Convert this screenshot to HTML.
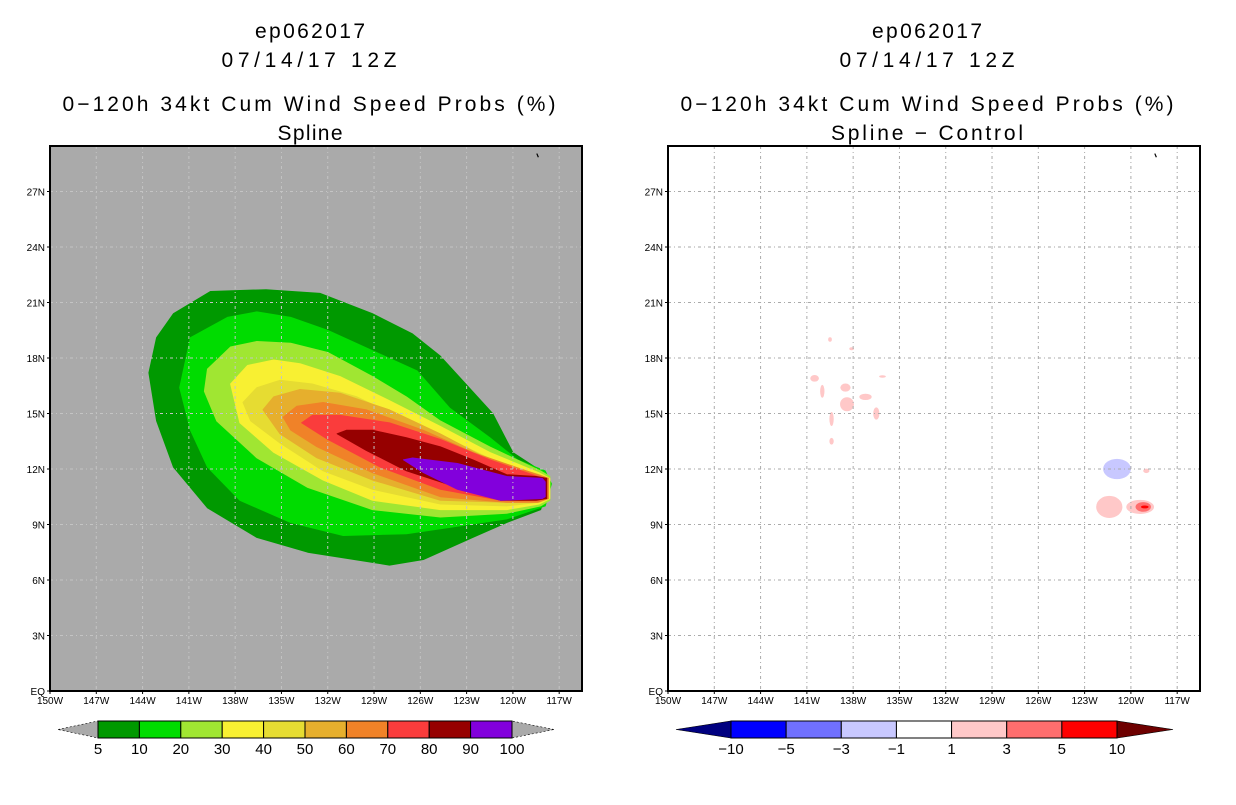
<!DOCTYPE html>
<html><head><meta charset="utf-8">
<style>
body{margin:0;background:#fff;width:1236px;height:800px;overflow:hidden;font-family:"Liberation Sans",sans-serif}
svg text{font-family:"Liberation Sans",sans-serif}
</style></head>
<body>
<svg id="chart" width="1236" height="800" xmlns="http://www.w3.org/2000/svg">
 <g font-size="21" text-anchor="middle" fill="#000">
  <text x="310" y="38" textLength="110" lengthAdjust="spacing">ep062017</text>
  <text x="309" y="67" textLength="175" lengthAdjust="spacing">07/14/17 12Z</text>
  <text x="309" y="111" textLength="493" lengthAdjust="spacing">0−120h 34kt Cum Wind Speed Probs (%)</text>
  <text x="310" y="140" textLength="65" lengthAdjust="spacing">Spline</text>
 </g>
 <g font-size="21" text-anchor="middle" fill="#000">
  <text x="927" y="38" textLength="110" lengthAdjust="spacing">ep062017</text>
  <text x="927" y="67" textLength="175" lengthAdjust="spacing">07/14/17 12Z</text>
  <text x="927" y="111" textLength="493" lengthAdjust="spacing">0−120h 34kt Cum Wind Speed Probs (%)</text>
  <text x="927" y="140" textLength="192" lengthAdjust="spacing">Spline − Control</text>
 </g>
 <g id="left"></g>
 <g id="right"></g>
 <g id="legL"></g>
 <g id="legR"></g>
</svg>
<script>
// ---- data ----
const lonTicks=[150,147,144,141,138,135,132,129,126,123,120,117];
const latTicks=[0,3,6,9,12,15,18,21,24,27];
const probLevels=[5,10,20,30,40,50,60,70,80,90];
const probColors=["#009900","#00dc00","#a0e632","#f8f032","#e6dc32","#e6af2d","#f08228","#fa3c3c","#960000","#8200dc"];
const c5=[[139.6,21.6],[136.0,21.7],[132.5,21.5],[129.1,20.4],[126.5,19.3],[124.7,18.1],[121.3,15.0],[120.0,12.9],[118.0,11.8],[117.7,11.0],[118.2,9.8],[120.4,9.1],[122.6,8.3],[125.8,7.1],[128.0,6.8],[133.3,7.5],[136.6,8.3],[139.8,9.9],[142.0,12.1],[143.1,14.6],[143.6,17.2],[143.1,19.1],[142.0,20.4]];
const c10=[[140.9,19.1],[138.5,20.2],[136.6,20.5],[134.4,20.2],[132.0,19.5],[129.1,18.4],[126.2,17.3],[124.1,15.3],[121.5,13.7],[119.7,12.5],[117.9,11.9],[117.5,11.2],[117.9,10.0],[120.4,9.3],[123.6,8.9],[126.9,8.5],[131.0,8.4],[134.4,9.1],[137.7,10.3],[139.8,12.1],[140.9,14.1],[141.6,16.4]];
const c20=[[139.8,17.4],[138.3,18.6],[136.6,18.9],[134.4,18.8],[132.0,18.3],[129.1,17.0],[126.9,15.9],[124.7,14.6],[121.5,13.2],[118.2,11.9],[117.6,11.6],[117.6,10.3],[118.2,10.0],[120.4,9.6],[124.7,9.4],[129.1,9.8],[133.3,11.0],[136.6,12.6],[139.2,14.6],[140.0,16.2]];
const c30=[[138.3,16.6],[137.2,17.6],[135.5,17.9],[133.8,17.7],[131.2,17.0],[128.0,15.7],[124.7,14.3],[121.5,12.9],[118.3,11.8],[117.6,11.5],[117.6,10.4],[118.3,10.1],[120.4,9.8],[124.7,9.8],[129.1,10.3],[132.3,11.4],[135.5,12.9],[137.7,14.5]];
const c40=[[137.5,15.6],[136.6,16.4],[135.1,16.8],[133.0,16.6],[130.1,15.9],[126.9,14.6],[123.6,13.4],[120.8,12.3],[118.3,11.7],[117.7,11.5],[117.7,10.4],[118.3,10.2],[120.4,10.0],[124.7,10.1],[129.1,10.9],[132.3,11.9],[135.1,13.4],[137.0,14.6]];
const c50=[[136.2,15.2],[135.5,15.9],[133.8,16.3],[131.2,16.1],[128.0,15.2],[124.7,13.9],[121.5,12.5],[118.3,11.7],[117.7,11.5],[117.7,10.4],[118.3,10.2],[120.4,10.2],[124.7,10.3],[129.1,11.4],[132.7,12.6],[135.1,13.9]];
const c60=[[134.9,14.8],[134.0,15.4],[132.3,15.6],[129.5,15.2],[125.8,14.1],[122.6,12.9],[118.4,11.7],[117.7,11.5],[117.7,10.4],[118.4,10.2],[120.4,10.2],[124.7,10.5],[129.1,11.8],[132.7,13.2],[134.4,14.1]];
const c70=[[133.7,14.5],[133.0,14.9],[131.2,14.9],[128.0,14.5],[124.7,13.6],[121.5,12.5],[118.4,11.6],[117.8,11.5],[117.8,10.4],[118.4,10.3],[120.8,10.3],[124.7,10.9],[128.6,12.1],[132.0,13.6]];
const c80=[[131.4,13.9],[130.8,14.1],[129.1,14.1],[126.9,13.7],[124.7,13.2],[122.6,12.5],[120.4,11.7],[118.5,11.6],[117.8,11.5],[117.8,10.4],[118.5,10.3],[120.8,10.3],[123.6,11.0],[126.9,11.9],[129.5,13.0]];
const c90=[[127.1,12.5],[126.5,12.6],[123.6,12.3],[120.4,11.6],[118.1,11.5],[117.9,11.3],[117.9,10.5],[118.1,10.4],[120.8,10.3],[123.6,10.9],[125.8,11.8]];
const probContours=[c5,c10,c20,c30,c40,c50,c60,c70,c80,c90];
const diffLevels=[-10,-5,-3,-1,1,3,5,10];
const diffColors=["#0000ff","#7070ff","#c8c8ff","#ffffff","#ffc8c8","#ff6e6e","#ff0000"];
// difference blobs: lon(W), lat, half-width (deg lon), half-height (deg lat), bin index
const blobLon=[139.5,138.1,140.5,140.0,138.5,137.2,138.4,139.4,136.5,136.1,139.4,120.9,119.0,121.4,119.4,119.2,119.1];
const blobLat=[19.0,18.5,16.9,16.2,16.4,15.9,15.5,14.7,15.0,17.0,13.5,12.0,11.9,9.95,9.95,9.95,9.95];
const blobW=[0.12,0.15,0.28,0.14,0.33,0.4,0.45,0.14,0.2,0.22,0.14,0.9,0.2,0.85,0.9,0.5,0.25];
const blobH=[0.12,0.08,0.18,0.35,0.22,0.17,0.38,0.38,0.33,0.06,0.18,0.55,0.12,0.6,0.38,0.26,0.08];
const blobBin=[4,4,4,4,4,4,4,4,4,4,4,2,4,4,4,5,6];

const NS="http://www.w3.org/2000/svg";
const PT=146,PB=691,PW=532;
const ppd=15.43, ppl=18.5;
function mk(tag,attrs,parent){const e=document.createElementNS(NS,tag);for(const k in attrs)e.setAttribute(k,attrs[k]);parent.appendChild(e);return e;}
function xs(x0){return lon=>x0+(150-lon)*ppd;}
const ys=lat=>PB-lat*ppl;

function drawMap(g,x0,bg,gridCol,gridDash,prefix){
  const X=xs(x0);
  const cp=mk("clipPath",{id:prefix+"clip"},g);
  mk("rect",{x:x0,y:PT,width:PW,height:PB-PT},cp);
  const bgr=mk("rect",{x:x0,y:PT,width:PW,height:PB-PT,fill:bg},g);
  
  
  const layer=mk("g",{"clip-path":"url(#"+prefix+"clip)"},g);
  
  
  const grid=mk("g",{},g);
  
  
  const axes=mk("g",{"font-size":"10",fill:"#000"},g);
  
  
  lonTicks.forEach(l=>{
    const x=X(l);
    if(l!==150){const ln=mk("line",{x1:x,x2:x,y1:PT,y2:PB,stroke:gridCol,"stroke-width":1,"stroke-dasharray":gridDash},grid);
      
      }
    const t=mk("text",{x:x,y:PB+13,"text-anchor":"middle"},axes);
    t.textContent=l+"W";
    
    
    mk("line",{x1:x,x2:x,y1:PB,y2:PB+3,stroke:"#000"},axes);
  });
  latTicks.forEach(l=>{
    const y=ys(l);
    if(l!==0){const ln=mk("line",{x1:x0,x2:x0+PW,y1:y,y2:y,stroke:gridCol,"stroke-width":1,"stroke-dasharray":gridDash},grid);
      
      }
    const t=mk("text",{x:x0-5,y:y+4,"text-anchor":"end"},axes);
    t.textContent=l===0?"EQ":l+"N";
    
    
    mk("line",{x1:x0-3,x2:x0,y1:y,y2:y,stroke:"#000"},axes);
  });
  const fr=mk("rect",{x:x0,y:PT,width:PW,height:PB-PT,fill:"none",stroke:"#000","stroke-width":2},g);
  
  
  const mark=mk("line",{x1:X(118.45),y1:ys(29.05),x2:X(118.35),y2:ys(28.85),stroke:"#000","stroke-width":1.2},g);
  
  
  return {layer,X};
}

// left
const L=drawMap(document.getElementById("left"),50,"#aaaaaa","#c4c4c4","3,3,1,3","left-");
probContours.forEach((poly,i)=>{
  const d=poly.map((p,j)=>(j?"L":"M")+L.X(p[0]).toFixed(1)+","+ys(p[1]).toFixed(1)).join("")+"Z";
  const p=mk("path",{d:d,fill:probColors[i],stroke:probColors[i],"stroke-width":0.8,"stroke-linejoin":"round"},L.layer);
  
  
});
// right
const R=drawMap(document.getElementById("right"),668,"#ffffff","#aaaaaa","3,3,1,3","right-");
blobLon.forEach((lon,i)=>{
  const e=mk("ellipse",{cx:R.X(lon),cy:ys(blobLat[i]),rx:Math.max(1.5,blobW[i]*ppd),ry:Math.max(1.2,blobH[i]*ppl),fill:diffColors[blobBin[i]]},R.layer);
  
  
});

// colorbars
function colorbar(g,x0,x1,yTop,yBot,cols,labels,leftTri,rightTri,tipL,tipR){
  const n=cols.length,w=(x1-x0)/n,ym=(yTop+yBot)/2;
  const tl=mk("polygon",{points:`${tipL},${ym} ${x0},${yTop} ${x0},${yBot}`,fill:leftTri,stroke:"#000","stroke-width":0.6,"stroke-dasharray":leftTri==="#aaaaaa"?"2,2":"none"},g);
  
  
  const tr=mk("polygon",{points:`${tipR},${ym} ${x1},${yTop} ${x1},${yBot}`,fill:rightTri,stroke:"#000","stroke-width":0.6,"stroke-dasharray":rightTri==="#aaaaaa"?"2,2":"none"},g);
  
  
  cols.forEach((c,i)=>{
    const r=mk("rect",{x:x0+i*w,y:yTop,width:w,height:yBot-yTop,fill:c,stroke:"#000","stroke-width":1},g);
    
    
  });
  labels.forEach((l,i)=>{
    const t=mk("text",{x:x0+i*w,y:yBot+16,"text-anchor":"middle","font-size":"15",fill:"#000"},g);
    t.textContent=String(l).replace("-","−");
    
    
  });
}
colorbar(document.getElementById("legL"),98,512,721,738,probColors,[5,10,20,30,40,50,60,70,80,90,100],"#aaaaaa","#aaaaaa",58,554);
colorbar(document.getElementById("legR"),731,1117,721,738,diffColors,diffLevels,"#000080","#6e0000",676,1173);
</script>
</body></html>
